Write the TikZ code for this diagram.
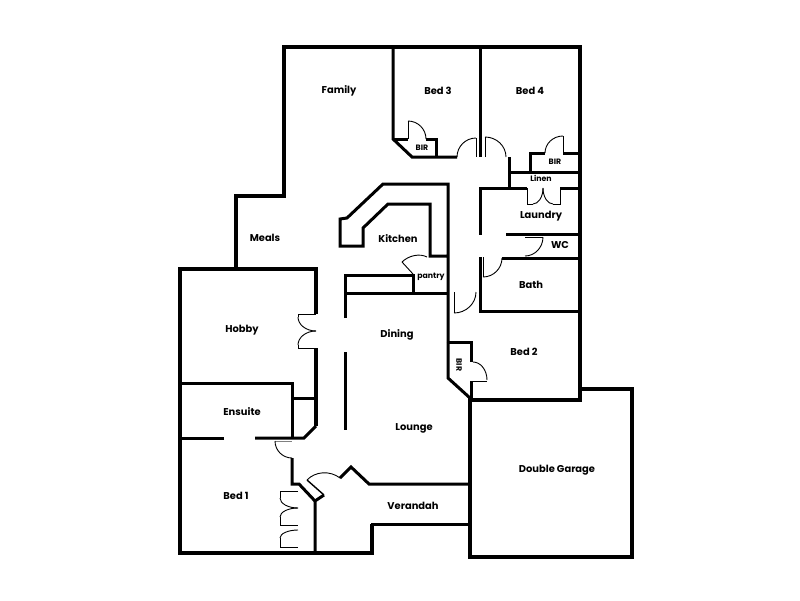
\documentclass[tikz,border=0pt]{standalone}
\usepackage{fontspec}
\setmainfont{Poppins}
\usetikzlibrary{calc}

\newcommand{\doorswing}[3]{\draw[leaf] (#1) .. controls ($(#1)!0.55!(#3)$) and ($(#2)!0.55!(#3)$) .. (#2);}

\begin{document}
\begin{tikzpicture}[x=1pt, y=-1pt,
    wall/.style={line width=3.8pt, black},
    inwall/.style={line width=3pt, black},
    leaf/.style={line width=0.9pt, black},
    room/.style={font=\bfseries\fontsize{9.9}{10}\selectfont, inner sep=0pt},
    small/.style={font=\bfseries\fontsize{7.8}{8}\selectfont, inner sep=0pt}]

    \useasboundingbox (0,0) rectangle (800,600);

    % 1. Outer walls
    \draw[wall] (236,268) -- (236,196) -- (284,196) -- (284,47) -- (580,47) -- (580,400) -- (470,400);
    \draw[wall] (180,269) -- (316,269) -- (316,314);
    \draw[wall] (316,348) -- (316,426);
    \draw[inwall] (316,426) -- (304,438) -- (255,438);
    \draw[inwall] (224,438) -- (180,438);
    \draw[wall] (180,267) -- (180,553) -- (372,553) -- (372,524);
    \draw[inwall] (372,525.5) -- (372,524) -- (470,524);
    \draw[wall] (580,389) -- (632,389) -- (632,557) -- (470,557) -- (470,398);
    \draw[inwall] (470,398) -- (448,378) -- (448,342);
    \draw[inwall] (315,553) -- (315,501) -- (324,495);
    \draw[inwall] (315,501) -- (299,484) -- (292,484) -- (292,458);
    \draw[inwall] (340,478) -- (351,467) -- (369,484) -- (470,484);

    % 2. Bedrooms at the top
    \draw[inwall] (393,47) -- (393,139) -- (412,157) -- (457,157);
    \draw[inwall] (393,139) -- (408,139);
    \draw[inwall] (426,139) -- (436,139) -- (436,157);
    \draw[inwall] (480,47) -- (480,157);
    \draw[inwall] (509,157) -- (509,187);
    \draw[inwall] (509,172) -- (580,172);
    \draw[inwall] (530,172) -- (530,153) -- (545,153);
    \draw[inwall] (563,153) -- (580,153);

    % 3. Kitchen and pantry
    \draw[inwall] (448,342) -- (448,184) -- (383,184) -- (347,218) -- (340,219) -- (340,246) -- (363,246) -- (363,228) -- (388,204) -- (430,204) -- (430,256) -- (448,256);
    \draw[inwall] (345,318) -- (345,275) -- (413,275) -- (413,293);
    \draw[inwall] (345,293) -- (448,293);
    \draw[inwall] (345,352) -- (345,430);

    % 4. Laundry, WC, bath, bed 2
    \draw[inwall] (527,188) -- (480,188) -- (480,235);
    \draw[inwall] (560,188) -- (580,188);
    \draw[inwall] (506,234) -- (580,234);
    \draw[inwall] (502,258) -- (580,258);
    \draw[inwall] (480,257) -- (480,311) -- (580,311);
    \draw[inwall] (448,342) -- (471,342) -- (471,362);
    \draw[inwall] (471,381) -- (471,400);

    % 5. Ensuite
    \draw[inwall] (180,383) -- (292,383) -- (292,438);
    \draw[inwall] (292,398) -- (316,398);

    % 6. Door leaves
    \draw[leaf] (408,139) -- (408,121);
    \doorswing{408,121}{426,139}{426,121}
    \doorswing{457,157}{476,138}{457,138}
    \draw[leaf] (476,138) -- (476,157);
    \draw[leaf] (485,157) -- (485,137);
    \doorswing{485,137}{506,157}{506,137}
    \doorswing{545,153}{563,136}{545,136}
    \draw[leaf] (563,136) -- (563,153);
    \draw[leaf] (527,188) -- (527,204) -- (533,204);
    \doorswing{533,204}{543,188}{543,204}
    \draw[leaf] (560,188) -- (560,204) -- (553,204);
    \doorswing{553,204}{543,188}{543,204}
    \draw[leaf] (525,237) -- (543,237);
    \doorswing{543,237}{525,256}{543,256}
    \draw[leaf] (483,257) -- (483,277);
    \doorswing{483,277}{502,258}{502,277}
    \draw[leaf] (454,292) -- (454,313);
    \doorswing{454,313}{476,292}{476,313}
    \draw[leaf] (413,274) -- (402,262);
    \doorswing{402,262}{427,257}{414,250}
    \doorswing{473,362}{487,380}{487,362}
    \draw[leaf] (487,381) -- (471,381);
    \draw[leaf] (316,314) -- (298,314) -- (298,317);
    \doorswing{298,317}{316,331}{298,331}
    \doorswing{316,331}{298,345}{298,331}
    \draw[leaf] (298,345) -- (298,348) -- (316,348);
    \draw[leaf, gray] (275,441) -- (292,441);
    \doorswing{275,441}{292,458}{275,458}
    \draw[leaf] (298,491) -- (280,491) -- (280,498);
    \doorswing{280,498}{298,508}{280,508}
    \doorswing{298,508}{280,517}{280,508}
    \draw[leaf] (280,517) -- (280,525) -- (298,525);
    \doorswing{298,530}{280,538}{280,530}
    \draw[leaf] (280,538) -- (280,547) -- (298,547);
    \draw[leaf, line width=1.4pt] (307,480) -- (324,495);
    \doorswing{307,480}{340,478}{322,464}

    % 7. Room labels
    \node[room] (family) at (339,91) {Family};
    \node[room] (bedthree) at (438,91) {Bed 3};
    \node[room] (bedfour) at (530,91) {Bed 4};
    \node[small] (birthree) at (422,148) {BIR};
    \node[small] (birfour) at (555,162) {BIR};
    \node[small] (linen) at (541,178) {Linen};
    \node[room] (laundry) at (541,216) {Laundry};
    \node[room] (wc) at (560,245) {WC};
    \node[room] (kitchen) at (398,239) {Kitchen};
    \node[small] (pantry) at (431,277) {pantry};
    \node[room] (bath) at (531,285) {Bath};
    \node[room] (meals) at (265,238) {Meals};
    \node[room] (hobby) at (242,330) {Hobby};
    \node[room] (dining) at (397,335) {Dining};
    \node[room] (bedtwo) at (524,352) {Bed 2};
    \node[small, rotate=-90] (birtwo) at (459,365) {BIR};
    \node[room] (ensuite) at (242,412) {Ensuite};
    \node[room] (lounge) at (414,428) {Lounge};
    \node[room] (bedone) at (236,496) {Bed 1};
    \node[room] (verandah) at (413,506) {Verandah};
    \node[room] (garage) at (557,470) {Double Garage};
\end{tikzpicture}
\end{document}
